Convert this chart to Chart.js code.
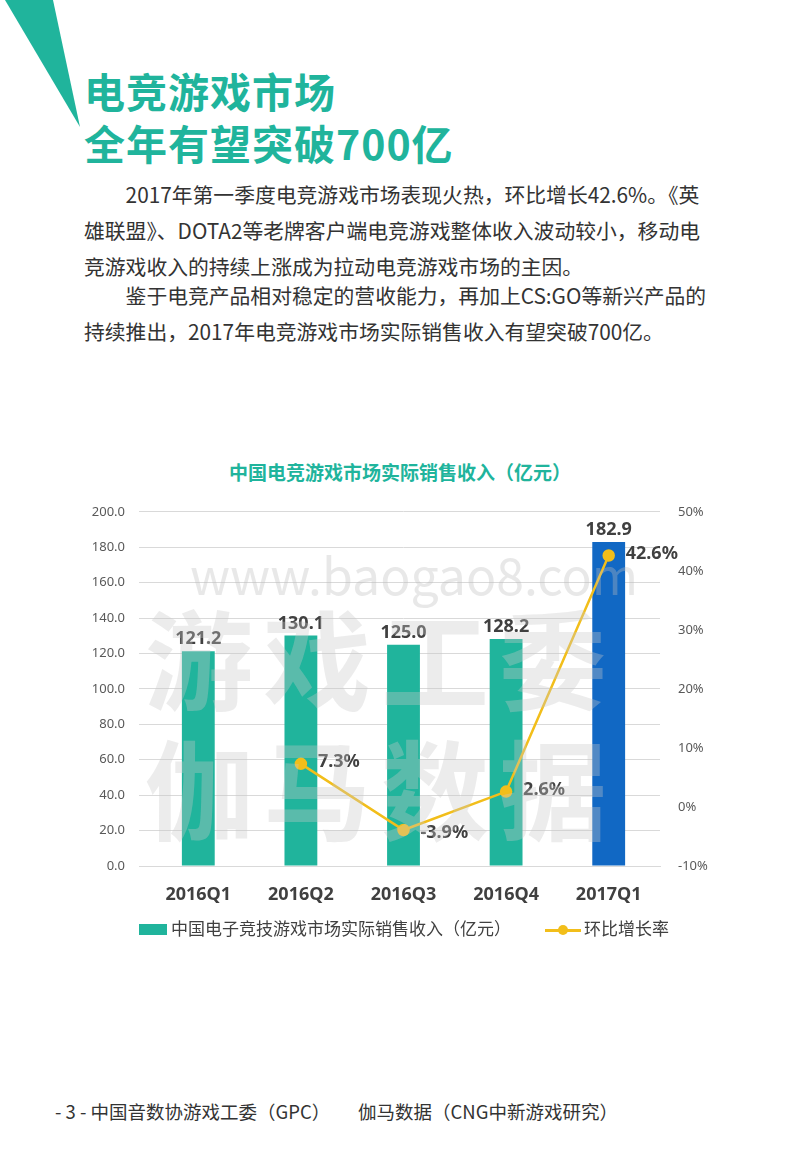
<!DOCTYPE html>
<html><head><meta charset="utf-8">
<script src="https://cdn.jsdelivr.net/npm/chart.js@4/dist/chart.umd.min.js"></script>
<style>
body{margin:0;width:800px;height:1156px;background:#fff;position:relative;font-family:"Noto Sans CJK SC","Noto Sans",sans-serif;overflow:hidden}
.h{position:absolute;left:84px;color:#20B49C;font-size:41px;font-weight:bold;line-height:52px;letter-spacing:1px}
.p{position:absolute;left:84px;font-size:20.8px;color:#333;line-height:36px;white-space:nowrap}
.wm{position:absolute;color:rgba(200,200,200,0.35);font-weight:bold;white-space:nowrap;z-index:5;pointer-events:none}
#title{position:absolute;top:458px;left:0;width:800px;text-align:center;color:#20B49C;font-size:19px;font-weight:bold}
#wrap{position:absolute;left:0;top:490px;width:800px;height:440px}
.lg{position:absolute;top:915px;font-size:17px;color:#404040;white-space:nowrap}
</style></head><body>
<svg style="position:absolute;left:0;top:0" width="100" height="140"><polygon points="5,0 53,0 80,127" fill="#20B49C"/></svg>
<div class="h" style="top:64px">电竞游戏市场<br>全年有望突破700亿</div>
<div class="p" style="top:176px">　　2017年第一季度电竞游戏市场表现火热，环比增长42.6%。《英<br>雄联盟》、DOTA2等老牌客户端电竞游戏整体收入波动较小，移动电<br>竞游戏收入的持续上涨成为拉动电竞游戏市场的主因。</div>
<div class="p" style="top:277px">　　鉴于电竞产品相对稳定的营收能力，再加上CS:GO等新兴产品的<br>持续推出，2017年电竞游戏市场实际销售收入有望突破700亿。</div>
<div id="title">中国电竞游戏市场实际销售收入（亿元）</div>
<div id="wrap"><canvas id="c"></canvas></div>
<div class="wm" style="left:190px;top:537px;font-size:50px;font-weight:normal;color:rgba(190,190,190,0.35)">www.baogao8.com</div>
<div class="wm" style="left:145px;top:577px;font-size:108px;letter-spacing:10px">游戏工委</div>
<div class="wm" style="left:145px;top:707px;font-size:108px;letter-spacing:10px">伽马数据</div>
<div class="lg" style="left:139px"><span style="display:inline-block;width:28px;height:11px;background:#20B49C;margin-right:4px"></span>中国电子竞技游戏市场实际销售收入（亿元）</div>
<div class="lg" style="left:545px"><span style="display:inline-block;position:relative;width:36px;height:3px;background:#F2BE1A;vertical-align:middle;margin-right:3px"><span style="position:absolute;left:13px;top:-4px;width:10px;height:10px;border-radius:5px;background:#F2BE1A"></span></span>环比增长率</div>
<div class="p" style="left:55px;top:1093px;font-size:18.5px">- 3 - 中国音数协游戏工委（GPC）　　伽马数据（CNG中新游戏研究）</div>
<script>
const categories=["2016Q1","2016Q2","2016Q3","2016Q4","2017Q1"];
const revenue=[121.2,130.1,125.0,128.2,182.9];
const growth=[null,7.3,-3.9,2.6,42.6];
const barColors=["#20B49C","#20B49C","#20B49C","#20B49C","#1168C4"];
const labelPlugin={id:"lbl",afterDatasetsDraw(ch){const c=ch.ctx;c.save();c.font="bold 18px 'Noto Sans','DejaVu Sans',sans-serif";c.fillStyle="#404040";
ch.getDatasetMeta(1).data.forEach((b,i)=>{c.textAlign="center";c.textBaseline="bottom";c.fillText(revenue[i].toFixed(1),b.x,b.y-3);});
ch.getDatasetMeta(0).data.forEach((p,i)=>{if(growth[i]==null)return;c.textAlign="left";c.textBaseline="middle";c.fillText(growth[i].toFixed(1)+"%",p.x+17,p.y+(i==2?3:-2));});
c.restore();}};
new Chart(document.getElementById("c"),{data:{labels:categories,datasets:[
{type:"line",data:growth,yAxisID:"y1",borderColor:"#F2BE1A",backgroundColor:"#F2BE1A",borderWidth:2.5,pointRadius:5,pointHoverRadius:5,order:0},
{type:"bar",data:revenue,yAxisID:"y",backgroundColor:barColors,barPercentage:0.32,categoryPercentage:1,order:1}]},
plugins:[labelPlugin],
options:{responsive:true,maintainAspectRatio:false,animation:false,layout:{padding:{top:15,left:0,right:0,bottom:0}},
plugins:{legend:{display:false},tooltip:{enabled:false}},
scales:{
x:{grid:{display:false},border:{color:"#d9d9d9"},ticks:{color:"#404040",font:{size:18,weight:"bold",family:"'Noto Sans',sans-serif"},padding:10},afterFit(s){s.height=64;}},
y:{position:"left",min:0,max:200,ticks:{stepSize:20,color:"#595959",font:{size:13,family:"'Noto Sans',sans-serif"},callback:v=>v.toFixed(1),padding:14},grid:{color:"#d9d9d9"},border:{display:false},afterFit(s){s.width=147;}},
y1:{position:"right",min:-10,max:50,ticks:{stepSize:10,color:"#595959",font:{size:13,family:"'Noto Sans',sans-serif"},callback:v=>v+"%",padding:10},grid:{display:false},border:{display:false},afterFit(s){s.width=140;}}
}}});
</script></body></html>
